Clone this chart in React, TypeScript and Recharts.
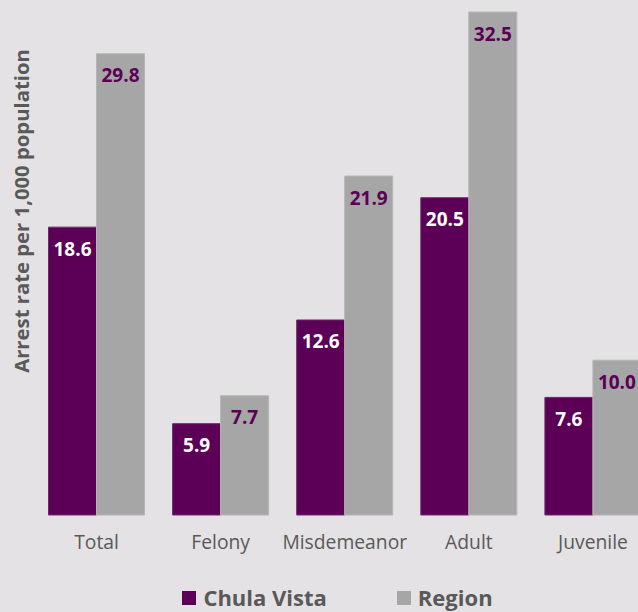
import React from "react";
import { BarChart, Bar, XAxis, YAxis, Legend, LabelList } from "recharts";

const categories = ["Total", "Felony", "Misdemeanor", "Adult", "Juvenile"];
const chulaVista = [18.6, 5.9, 12.6, 20.5, 7.6];
const region = [29.8, 7.7, 21.9, 32.5, 10.0];
const seriesNames = ["Chula Vista", "Region"];
const yAxisTitle = "Arrest rate per 1,000 population";

const data = categories.map((c, i) => ({ name: c, cv: chulaVista[i], region: region[i] }));

const PURPLE = "#5b0056";
const GREY = "#a6a6a6";
const TEXT = "#595959";
const BG = "#e4e2e4";
const FONT = "'Open Sans', 'Noto Sans', sans-serif";

const makeLabel = (color: string) => (props: any) => {
  const { x, y, width, value } = props;
  return (
    <text
      x={Number(x) + Number(width) / 2}
      y={Number(y) + 28.5}
      textAnchor="middle"
      fill={color}
      fontFamily={FONT}
      fontWeight={700}
      fontSize={19}
    >
      {Number(value).toFixed(1)}
    </text>
  );
};

const Tick = (props: any) => {
  const { x, y, payload } = props;
  return (
    <text x={x} y={y + 26} textAnchor="middle" fill={TEXT} fontFamily={FONT} fontSize={19.3}>
      {payload.value}
    </text>
  );
};

const LegendContent = () => {
  const colors = [PURPLE, GREY];
  return (
    <div
      style={{
        display: "flex",
        justifyContent: "center",
        alignItems: "center",
        height: 30,
        paddingRight: 14.5,
        fontFamily: FONT,
        fontWeight: 700,
        fontSize: 22,
        color: TEXT,
      }}
    >
      {seriesNames.map((n, i) => (
        <div key={n} style={{ display: "flex", alignItems: "center", marginRight: i === 0 ? 70 : 0 }}>
          <span style={{ display: "inline-block", width: 14, height: 14, background: colors[i], marginRight: 7, marginTop: 2 }} />
          <span>{n}</span>
        </div>
      ))}
    </div>
  );
};

export default function App() {
  return (
    <div
      style={{
        position: "fixed",
        left: 0,
        top: 0,
        width: 638,
        height: 612,
        overflow: "hidden",
        background: BG,
      }}
    >
      <BarChart
        width={660}
        height={612}
        data={data}
        margin={{ top: 12, right: 5, left: 34.5, bottom: 0 }}
        barCategoryGap={14}
        barGap={0}
      >
        <XAxis dataKey="name" axisLine={false} tickLine={false} height={67} tick={<Tick />} interval={0} />
        <YAxis hide domain={[0, "dataMax"]} />
        <Legend verticalAlign="bottom" height={30} content={<LegendContent />} />
        <Bar dataKey="cv" name={seriesNames[0]} fill={PURPLE} stroke="#6e2a6a" strokeWidth={1} isAnimationActive={false}>
          <LabelList dataKey="cv" content={makeLabel("#ffffff")} />
        </Bar>
        <Bar dataKey="region" name={seriesNames[1]} fill={GREY} stroke="#b5b5b5" strokeWidth={1} isAnimationActive={false}>
          <LabelList dataKey="region" content={makeLabel(PURPLE)} />
        </Bar>
      </BarChart>
      <svg
        width={40}
        height={612}
        style={{ position: "absolute", left: 0, top: 0, pointerEvents: "none" }}
      >
        <text
          x={21}
          y={211}
          transform="rotate(-90 21 211)"
          textAnchor="middle"
          dominantBaseline="central"
          fill={TEXT}
          fontFamily={FONT}
          fontWeight={700}
          fontSize={20.3}
        >
          {yAxisTitle}
        </text>
      </svg>
    </div>
  );
}
